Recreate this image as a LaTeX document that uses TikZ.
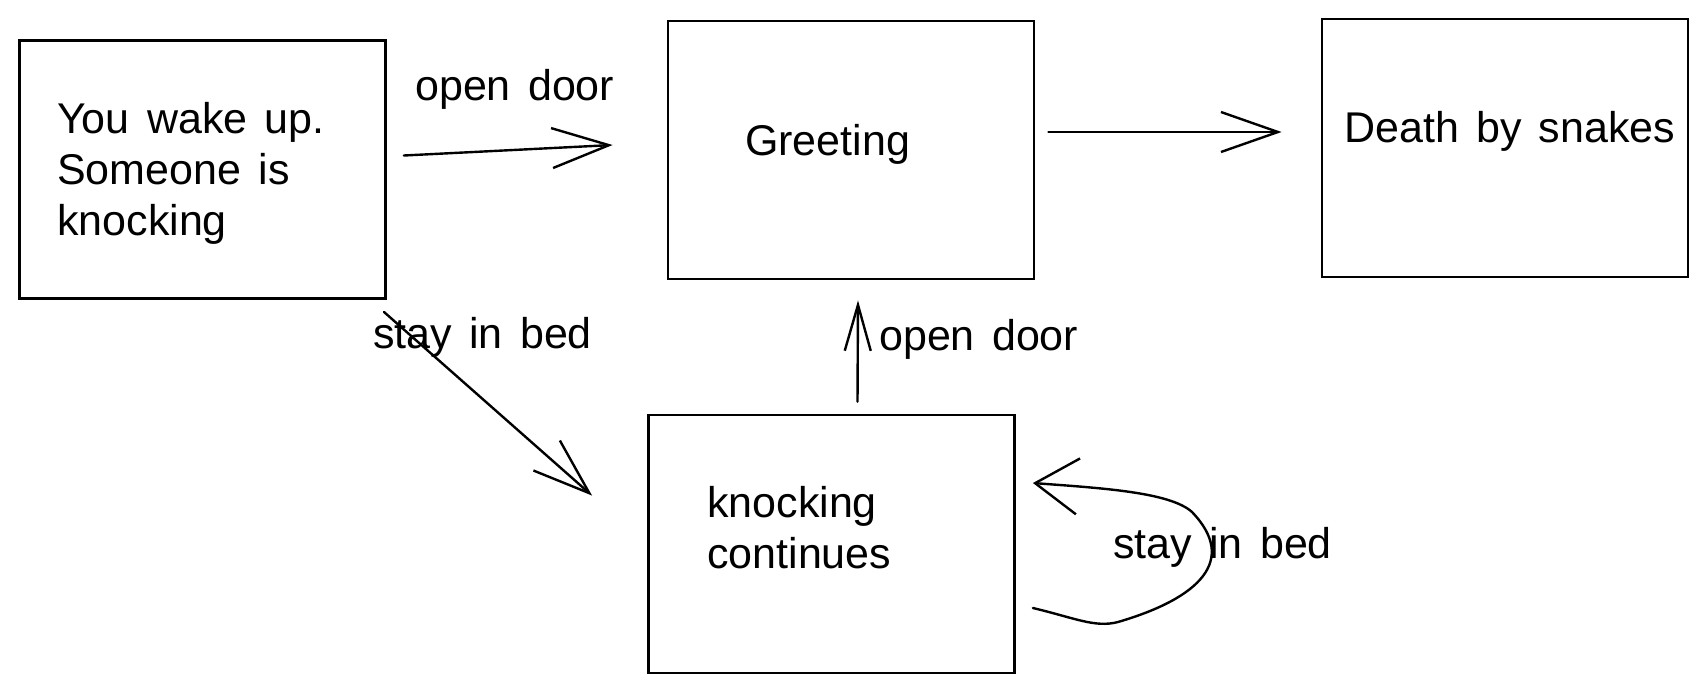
\documentclass[tikz,border=0pt]{standalone}
\usepackage{fontspec}
\setmainfont[WordSpace=1.45]{Liberation Sans}
\usetikzlibrary{arrows.meta}

\tikzset{
    box/.style={draw, line width=2.8pt, minimum width=366, minimum height=258, inner sep=0},
    txt/.style={anchor=base west, inner sep=0, align=left, font=\fontsize{43}{51}\selectfont},
    arr/.style={line width=2.4pt, line cap=round, -{Straight Barb[length=57pt, width=40pt]}},
}

\begin{document}
\begin{tikzpicture}[x=1pt, y=-1pt]
    \useasboundingbox (0,0) rectangle (1707,694);

    \node[box] (wake) at (202.5,169.5) {};
    \node[box] (greeting) at (851,150) {};
    \node[box] (death) at (1505,148) {};
    \node[box] (knock) at (831.5,544) {};

    % multi-line texts sit on their last baseline
    \node[txt] (waketxt) at (57,235) {You wake up.\\Someone is\\knocking};
    \node[txt] (greettxt) at (745,155) {Greeting};
    \node[txt] (deathtxt) at (1344,142) {Death by snakes};
    \node[txt] (knocktxt) at (707,568) {knocking\\continues};

    \node[txt] (open1) at (415,100) {open door};
    \node[txt] (stay1) at (373,348) {stay in bed};
    \node[txt] (open2) at (879,350) {open door};
    \node[txt] (stay2) at (1113,558) {stay in bed};

    \draw[arr] ([xshift=17,yshift=14]wake.east) -- ([xshift=-54,yshift=5]greeting.west);
    \draw[arr] ([xshift=13,yshift=18]greeting.east) -- ([xshift=-39,yshift=16]death.west);
    \draw[arr] ([xshift=-3,yshift=-12]wake.south east) -- ([xshift=-55,yshift=-82]knock.north west);
    \draw[arr, -{Straight Barb[length=46pt, width=26pt]}] ([xshift=26,yshift=12]knock.north) -- ([xshift=7,yshift=-20]greeting.south);
    \draw[arr, -{Straight Barb[length=43pt, width=56pt]}] ([xshift=17,yshift=-64]knock.east)
        .. controls (1075,618) and (1095,628) .. (1118,622)
        .. controls (1200,598) and (1238,560) .. (1192,512)
        .. controls (1170,492) and (1100,488) .. ([xshift=17,yshift=61]knock.east);
\end{tikzpicture}
\end{document}
